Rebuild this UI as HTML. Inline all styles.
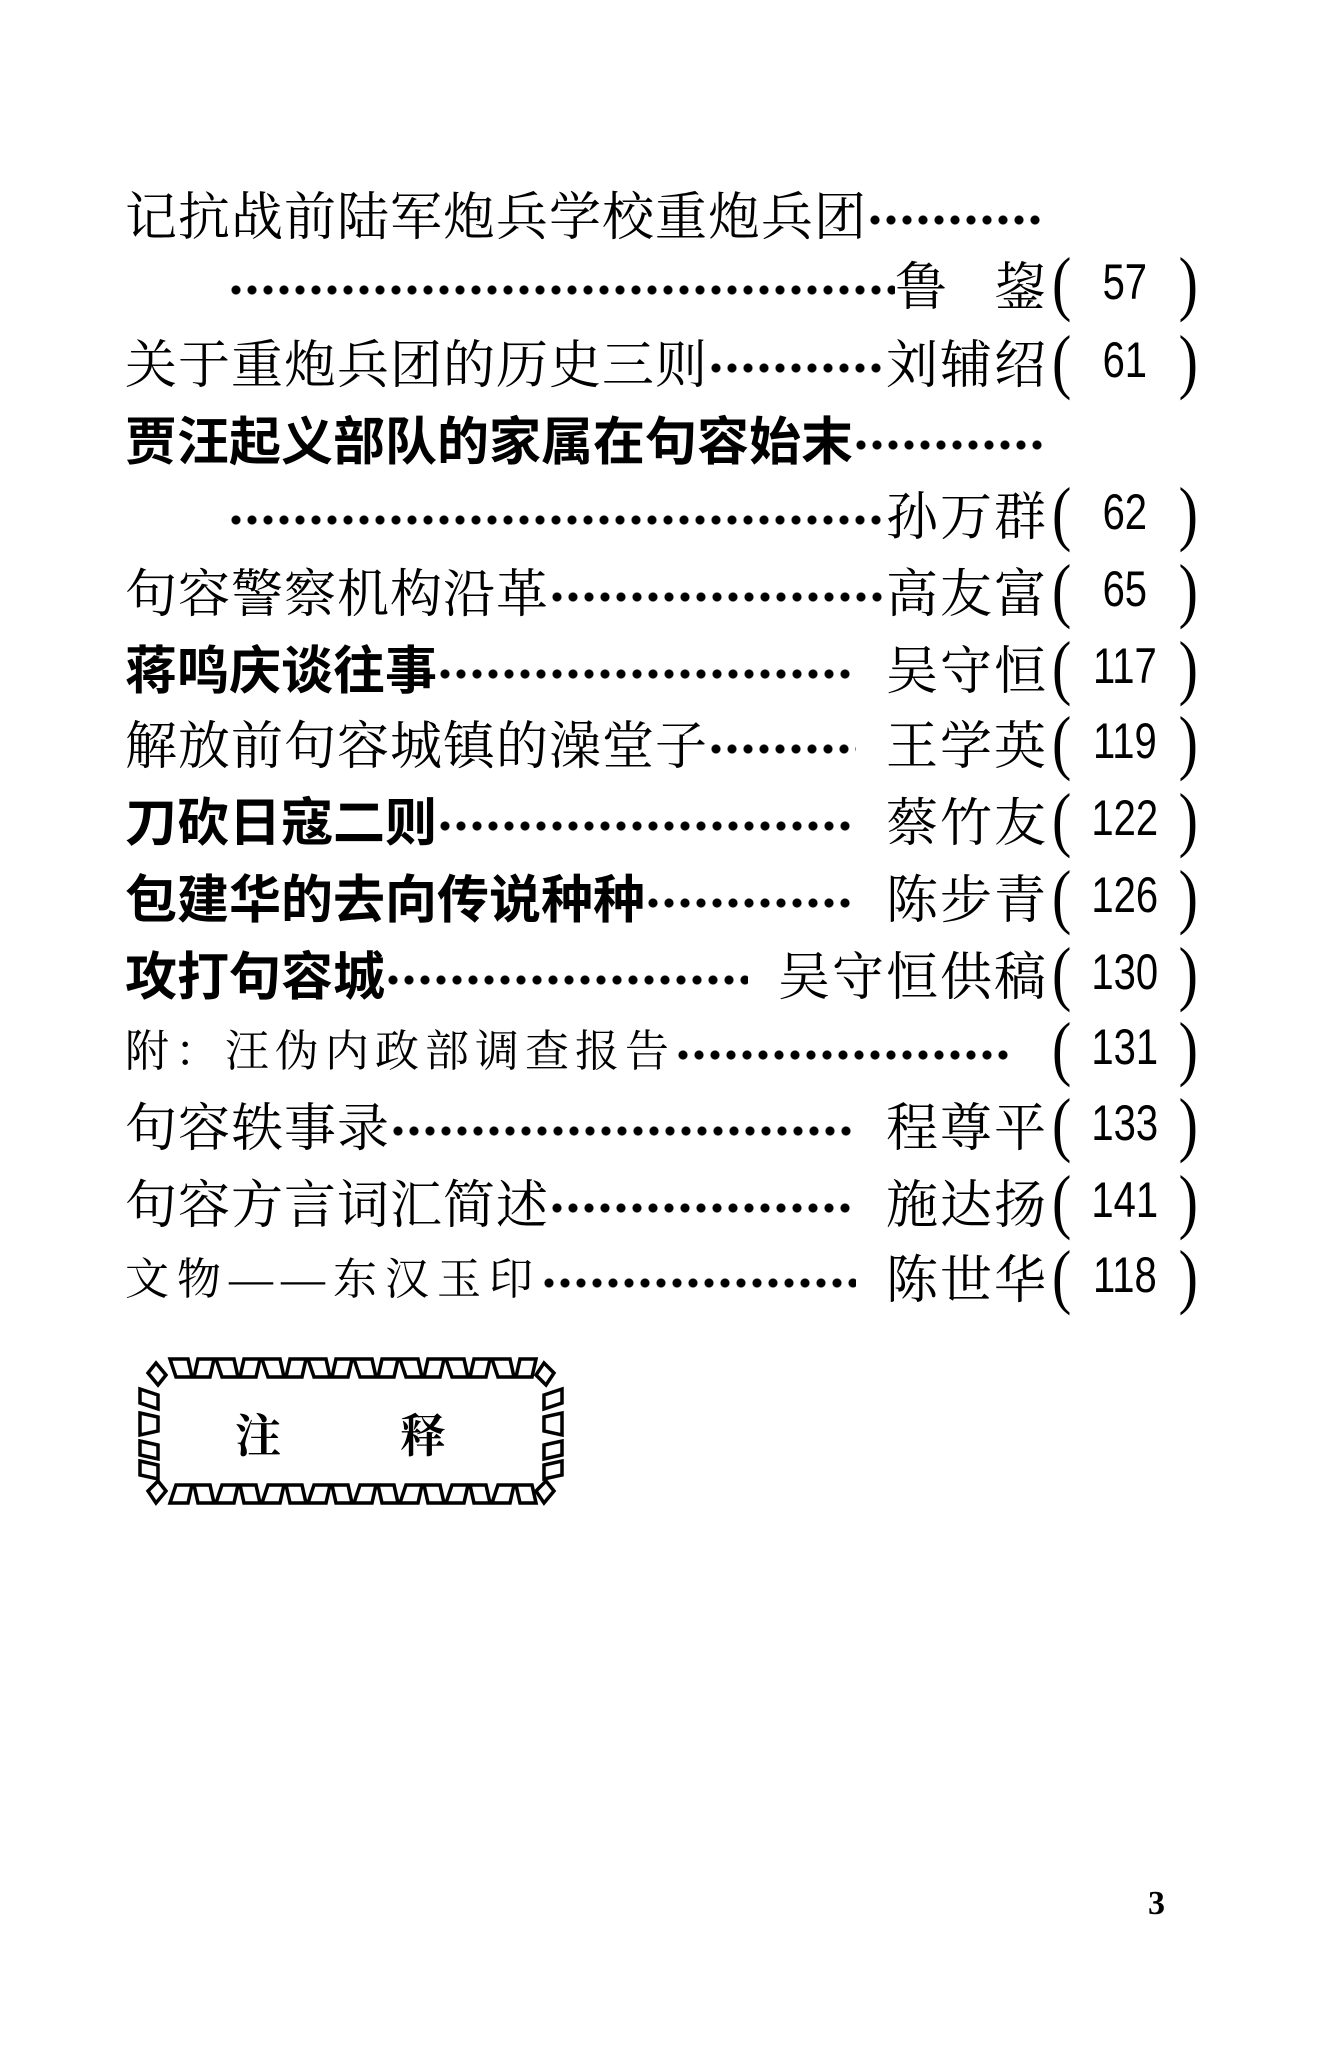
<!DOCTYPE html>
<html><head><meta charset="utf-8">
<style>
body{margin:0;width:1324px;height:2062px;background:#fff;position:relative;overflow:hidden;font-family:"Liberation Serif","Noto Serif CJK SC","Noto Sans CJK SC",serif;color:#000}
.row{position:absolute;left:125px;width:1073px;height:64px;display:flex;align-items:center;font-size:52px;letter-spacing:1px;white-space:nowrap}
.row.b{font-family:"Liberation Sans","Noto Sans CJK SC",sans-serif;font-weight:bold;letter-spacing:0px}
.dots{flex:1;height:64px;background-image:radial-gradient(circle at 8px 40px,#000 4px,transparent 5px);background-size:16px 64px;background-repeat:repeat-x}
.au{font-family:"Liberation Serif","Noto Serif CJK SC",serif;font-weight:normal;letter-spacing:2px;margin-right:4px}
.pg{width:146px;display:flex;justify-content:space-between;align-items:center;font-family:"Liberation Sans",sans-serif;font-weight:normal;letter-spacing:0;font-size:50px}
.pg b{font-weight:normal;display:inline-block;transform:scaleX(0.8)}
.pg span{font-size:58px;font-family:"Liberation Serif",serif;transform:scaleY(1.25);display:inline-block;font-weight:normal}
</style></head><body>

<div class="row" style="top:180px">记抗战前陆军炮兵学校重炮兵团<div class="dots" style="margin-right:10px"></div><div style="width:146px"></div></div>
<div class="row" style="top:250px;left:228px;width:970px"><div class="dots"></div><span class="au">鲁&nbsp;&nbsp;&nbsp;鋆</span><div class="pg"><span>(</span><b>57</b><span>)</span></div></div>
<div class="row" style="top:328px">关于重炮兵团的历史三则<div class="dots"></div><span class="au">刘辅绍</span><div class="pg"><span>(</span><b>61</b><span>)</span></div></div>
<div class="row b" style="top:405px">贾汪起义部队的家属在句容始末<div class="dots" style="margin-right:10px"></div><div style="width:146px"></div></div>
<div class="row" style="top:480px;left:228px;width:970px"><div class="dots"></div><span class="au">孙万群</span><div class="pg"><span>(</span><b>62</b><span>)</span></div></div>
<div class="row" style="top:557px">句容警察机构沿革<div class="dots"></div><span class="au">高友富</span><div class="pg"><span>(</span><b>65</b><span>)</span></div></div>
<div class="row b" style="top:634px">蒋鸣庆谈往事<div class="dots" style="margin-right:30px"></div><span class="au">吴守恒</span><div class="pg"><span>(</span><b>117</b><span>)</span></div></div>
<div class="row" style="top:709px">解放前句容城镇的澡堂子<div class="dots" style="margin-right:30px"></div><span class="au">王学英</span><div class="pg"><span>(</span><b>119</b><span>)</span></div></div>
<div class="row b" style="top:786px">刀砍日寇二则<div class="dots" style="margin-right:30px"></div><span class="au">蔡竹友</span><div class="pg"><span>(</span><b>122</b><span>)</span></div></div>
<div class="row b" style="top:863px">包建华的去向传说种种<div class="dots" style="margin-right:30px"></div><span class="au">陈步青</span><div class="pg"><span>(</span><b>126</b><span>)</span></div></div>
<div class="row b" style="top:940px">攻打句容城<div class="dots" style="margin-right:30px"></div><span class="au">吴守恒供稿</span><div class="pg"><span>(</span><b>130</b><span>)</span></div></div>
<div class="row" style="top:1015px;font-size:44px;letter-spacing:6px">附：汪伪内政部调查报告<div class="dots" style="margin-right:40px"></div><div class="pg"><span>(</span><b>131</b><span>)</span></div></div>
<div class="row" style="top:1091px">句容轶事录<div class="dots" style="margin-right:30px"></div><span class="au">程尊平</span><div class="pg"><span>(</span><b>133</b><span>)</span></div></div>
<div class="row" style="top:1168px">句容方言词汇简述<div class="dots" style="margin-right:30px"></div><span class="au">施达扬</span><div class="pg"><span>(</span><b>141</b><span>)</span></div></div>
<div class="row" style="top:1243px;font-size:44px;letter-spacing:8px">文物——东汉玉印<div class="dots" style="margin-right:30px"></div><span class="au" style="font-size:52px">陈世华</span><div class="pg"><span>(</span><b>118</b><span>)</span></div></div>

<svg style="position:absolute;left:130px;top:1345px" width="440" height="175" fill="none" stroke="#000" stroke-width="3.5">
<path d="M40 14L58 14L62 32L46 32Z M64 32L80 32L84 14L68 14Z
M86 14L104 14L108 32L92 32Z M110 32L126 32L130 14L114 14Z
M132 14L150 14L154 32L138 32Z M156 32L172 32L176 14L160 14Z
M178 14L196 14L200 32L184 32Z M202 32L218 32L222 14L206 14Z
M224 14L242 14L246 32L230 32Z M248 32L264 32L268 14L252 14Z
M270 14L288 14L292 32L276 32Z M294 32L310 32L314 14L298 14Z
M316 14L334 14L338 32L322 32Z M340 32L356 32L360 14L344 14Z
M362 14L380 14L384 32L368 32Z M386 32L402 32L406 14L390 14Z"/>
<path d="M46 140L62 140L58 158L40 158Z M68 158L84 158L80 140L64 140Z
M92 140L108 140L104 158L86 158Z M114 158L130 158L126 140L110 140Z
M138 140L154 140L150 158L132 158Z M160 158L176 158L172 140L156 140Z
M184 140L200 140L196 158L178 158Z M206 158L222 158L218 140L202 140Z
M230 140L246 140L242 158L224 158Z M252 158L268 158L264 140L248 140Z
M276 140L292 140L288 158L270 158Z M298 158L314 158L310 140L294 140Z
M322 140L338 140L334 158L316 158Z M344 158L360 158L356 140L340 140Z
M368 140L384 140L380 158L362 158Z M390 158L406 158L402 140L386 140Z"/>
<path d="M26 18L36 30L28 40L18 28Z M414 18L424 28L416 40L406 30Z M18 146L28 136L36 146L26 158Z M406 146L416 136L424 146L414 158Z"/>
<path d="M10 44L28 50L28 64L10 58Z M10 68L28 72L28 86L10 90Z M10 96L28 100L28 114L10 110Z M10 116L28 120L28 134L10 130Z"/>
<path d="M414 50L432 44L432 58L414 64Z M414 72L432 68L432 90L414 86Z M414 100L432 96L432 110L414 114Z M414 120L432 116L432 130L414 134Z"/>
<text x="105" y="107" font-size="46" font-family="Noto Serif CJK SC, serif" font-weight="bold" fill="#000" stroke="none">注</text>
<text x="270" y="107" font-size="46" font-family="Noto Serif CJK SC, serif" font-weight="bold" fill="#000" stroke="none">释</text>
</svg>

<div style="position:absolute;left:1148px;top:1885px;font:bold 34px 'Liberation Serif',serif">3</div>
</body></html>
